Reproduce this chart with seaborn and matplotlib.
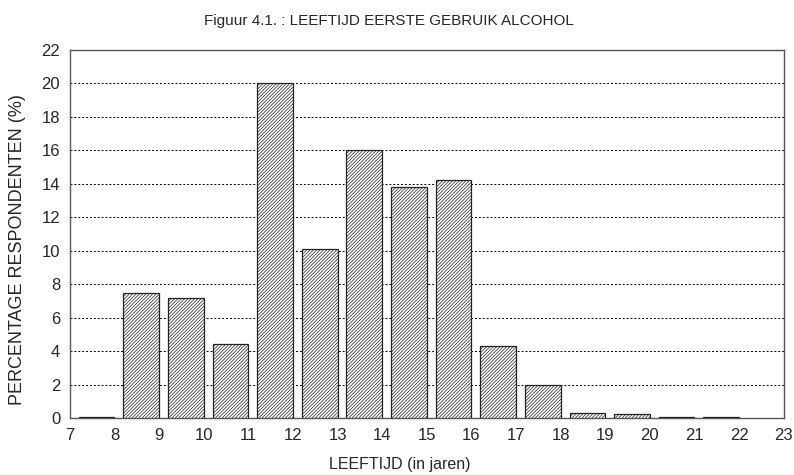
import numpy as np
import pandas as pd
import matplotlib
matplotlib.use('Agg')
import matplotlib.pyplot as plt
import seaborn as sns

# leeftijd eerste gebruik alcohol (%)
leeftijd = [8, 9, 10, 11, 12, 13, 14, 15, 16, 17, 18, 19, 20, 21, 22]
percentage = [0.05, 7.5, 7.2, 4.4, 20.0, 10.1, 16.0, 13.8, 14.2, 4.3, 2.0, 0.3, 0.25, 0.05, 0.05]

df = pd.DataFrame({'leeftijd': leeftijd, 'pct': percentage})
# bars sit just left of their tick (interval k-1 .. k)
df['pos'] = df['leeftijd'] - 0.4

sns.set_style('white')
plt.rcParams['font.family'] = ['Liberation Sans', 'DejaVu Sans']
plt.rcParams['hatch.linewidth'] = 0.5

fig = plt.figure(figsize=(7.94, 4.75), dpi=100)
ax = fig.add_axes([0.088, 0.12, 0.899, 0.775])

sns.barplot(data=df, x='pos', y='pct', native_scale=True, width=0.8,
            color='white', edgecolor='#222222', linewidth=0.9, ax=ax, zorder=3)
for p in ax.patches:
    p.set_hatch('//////////')
    p.set_facecolor('white')

ax.set_xlim(7, 23)
ax.set_ylim(0, 22)
ax.set_xticks(range(7, 24))
ax.set_yticks(range(0, 23, 2))
ax.tick_params(labelsize=12, length=0, pad=7)
for y in range(2, 22, 2):
    ax.axhline(y, color='black', linestyle=(0, (2, 2)), linewidth=0.7, zorder=1)
for s in ax.spines.values():
    s.set_color('#555555')
    s.set_linewidth(1.0)

fig.text(0.49, 0.955, 'Figuur 4.1. : LEEFTIJD EERSTE GEBRUIK ALCOHOL',
         fontsize=11, ha='center', va='center')
ax.set_xlabel('LEEFTIJD (in jaren)', fontsize=11.5)
ax.xaxis.set_label_coords(0.462, -0.105)
ax.set_ylabel('PERCENTAGE RESPONDENTEN (%)', fontsize=13)
ax.yaxis.set_label_coords(-0.062, 0.457)

fig.savefig('out.png', dpi=100)
